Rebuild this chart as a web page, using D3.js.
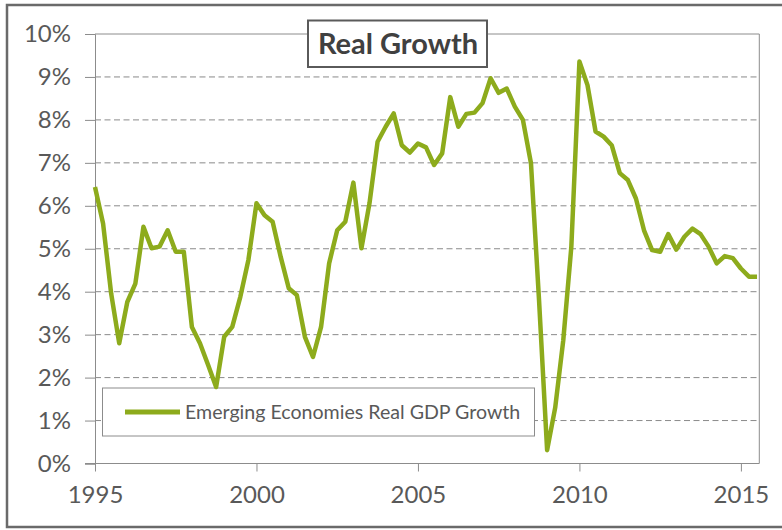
<!DOCTYPE html>
<html><head><meta charset="utf-8">
<script src="https://cdn.jsdelivr.net/npm/d3@7"></script>
<style>html,body{margin:0;padding:0;background:#fff;}svg{display:block;}</style>
</head><body>
<svg id="chart" width="782" height="530"></svg>
<script>
const title = "Real Growth";
const seriesName = "Emerging Economies Real GDP Growth";
const years = [1995,1996,1997,1998,1999,2000,2001,2002,2003,2004,2005,2006,2007,2008,2009,2010,2011,2012,2013,2014,2015];
// quarterly values (%) per year, Q1..Q4
const growth = [
  [6.44, 5.59, 3.96, 2.80],
  [3.76, 4.19, 5.51, 5.01],
  [5.05, 5.43, 4.93, 4.93],
  [3.18, 2.80, 2.30, 1.78],
  [2.95, 3.18, 3.88, 4.74],
  [6.06, 5.78, 5.63, 4.81],
  [4.08, 3.92, 2.95, 2.48],
  [3.18, 4.66, 5.43, 5.63],
  [6.54, 5.01, 6.06, 7.49],
  [7.84, 8.15, 7.41, 7.24],
  [7.45, 7.36, 6.95, 7.22],
  [8.53, 7.84, 8.14, 8.17],
  [8.39, 8.97, 8.63, 8.73],
  [8.31, 8.00, 6.99, 3.80],
  [0.31, 1.30, 2.87, 5.05],
  [9.36, 8.81, 7.73, 7.61],
  [7.41, 6.76, 6.60, 6.17],
  [5.43, 4.97, 4.93, 5.34],
  [4.98, 5.28, 5.47, 5.34],
  [5.05, 4.66, 4.83, 4.78],
  [4.54, 4.35, 4.35]
];
const xTicks = [1995, 2000, 2005, 2010, 2015];
const yTicks = [0,1,2,3,4,5,6,7,8,9,10];

const data = [];
years.forEach((y, i) => growth[i].forEach((v, q) => data.push({t: y + q / 4, v: v})));

const svg = d3.select("#chart");
const L = 95, R = 759.3, T = 34, B = 463.5;
const x = d3.scaleLinear().domain([1995, 2015.57]).range([L, R]);
const y = d3.scaleLinear().domain([0, 10]).range([B, T]);

const gray = "#595959";
const axisCol = "#8c8c8c";
const green = "#8dab1c";

// outer frame
svg.append("rect").attr("x", 7).attr("y", 5).attr("width", 800).attr("height", 522)
  .attr("fill", "none").attr("stroke", "#6a6a6a").attr("stroke-width", 2.5);

// gridlines (dashed)
svg.append("g").selectAll("line").data(yTicks.filter(d => d > 0 && d < 10)).join("line")
  .attr("x1", L).attr("x2", R).attr("y1", d => y(d)).attr("y2", d => y(d))
  .attr("stroke", "#8a8a8a").attr("stroke-width", 1).attr("stroke-dasharray", "6,3.5");

// plot area top and right border
svg.append("line").attr("x1", L).attr("x2", R).attr("y1", T).attr("y2", T).attr("stroke", axisCol);
svg.append("line").attr("x1", R).attr("x2", R).attr("y1", T).attr("y2", B).attr("stroke", axisCol);

// y axis
const yAxis = d3.axisLeft(y).tickValues(yTicks).tickFormat(d => d + "%").tickSize(10).tickPadding(14);
const gy = svg.append("g").attr("transform", `translate(${L},0)`).call(yAxis);
gy.select(".domain").attr("stroke", axisCol);
gy.selectAll(".tick line").attr("stroke", axisCol);
gy.selectAll("text").attr("fill", gray).style("font-family", "Lato, sans-serif").style("font-size", "24px");

// x axis
const xAxis = d3.axisBottom(x).tickValues(xTicks).tickFormat(d3.format("d")).tickSize(8).tickSizeOuter(0).tickPadding(14);
const gx = svg.append("g").attr("transform", `translate(0,${B})`).call(xAxis);
gx.select(".domain").attr("stroke", axisCol).attr("d", `M${L - 10},0H${R}`);
gx.selectAll(".tick line").attr("stroke", axisCol);
gx.selectAll("text").attr("fill", gray).style("font-family", "Lato, sans-serif").style("font-size", "24px");

// legend
const lg = svg.append("g");
lg.append("rect").attr("x", 102.5).attr("y", 388).attr("width", 432).attr("height", 48)
  .attr("fill", "#fff").attr("stroke", "#8c8c8c").attr("stroke-width", 1);
lg.append("line").attr("x1", 125).attr("x2", 180).attr("y1", 412).attr("y2", 412)
  .attr("stroke", green).attr("stroke-width", 5);
lg.append("text").attr("x", 185).attr("y", 412).attr("dy", "0.35em").text(seriesName)
  .attr("fill", gray).style("font-family", "Lato, sans-serif").style("font-size", "19.6px");

// series line
const line = d3.line().x(d => x(d.t)).y(d => y(d.v));
svg.append("path").datum(data).attr("d", line).attr("fill", "none")
  .attr("stroke", green).attr("stroke-width", 4.5).attr("stroke-linejoin", "round");

// title box
const tg = svg.append("g");
tg.append("rect").attr("x", 308).attr("y", 20.5).attr("width", 179).attr("height", 46.5)
  .attr("fill", "#fff").attr("stroke", "#5a5a5a").attr("stroke-width", 2);
tg.append("text").attr("x", 398).attr("y", 53.5).attr("text-anchor", "middle").text(title)
  .attr("fill", "#404040").style("font-family", "Lato, sans-serif").style("font-weight", "bold").style("font-size", "29px");
</script>
</body></html>
